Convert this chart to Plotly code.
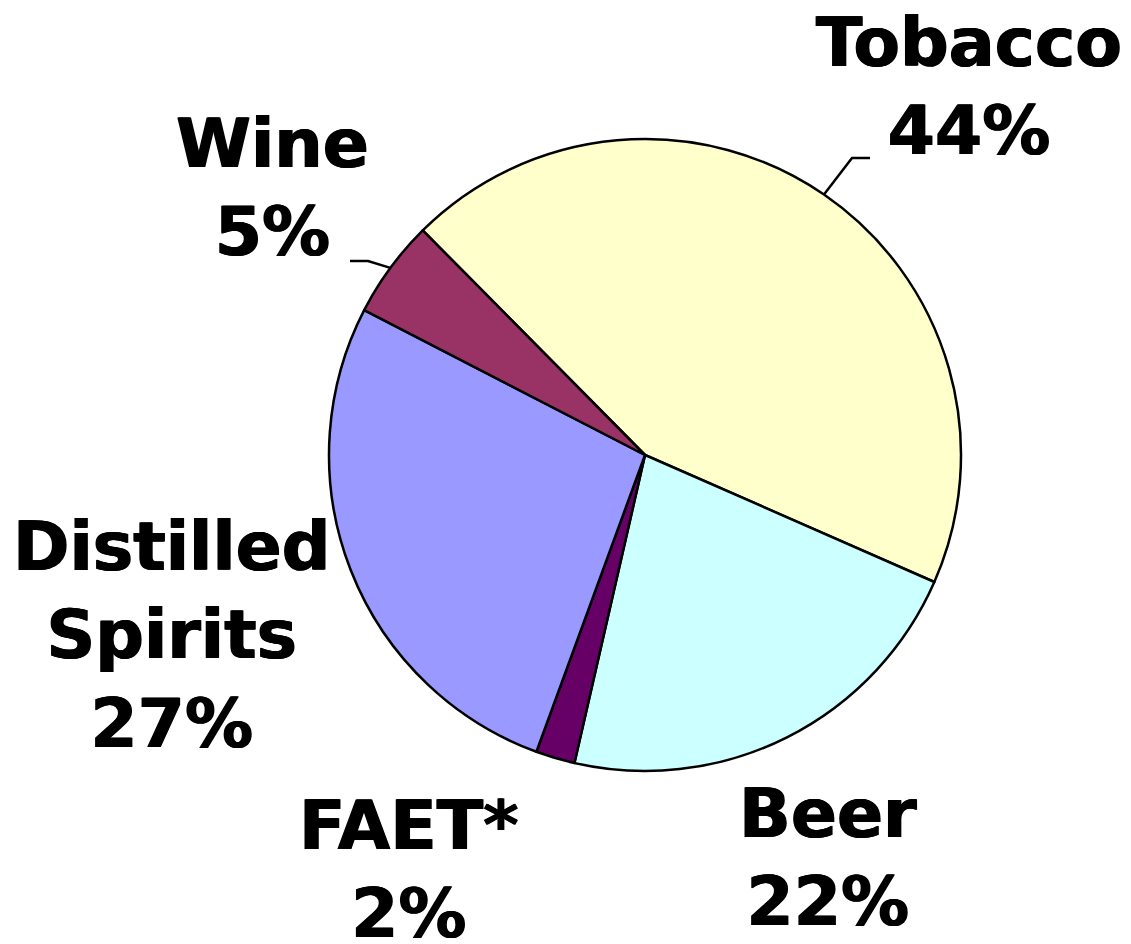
import math
import plotly.graph_objects as go

# ---- data ----
categories = ["Tobacco", "Beer", "FAET*", "Distilled Spirits", "Wine"]
values = [44, 22, 2, 27, 5]
colors = ["#FFFFCC", "#CCFFFF", "#660066", "#9999FF", "#993366"]
label_text = ["Tobacco", "Beer", "FAET*", "Distilled<br>Spirits", "Wine"]

# ---- layout constants ----
W, H = 1131, 944
OFF = 8  # page body margin
CX, CY, R = 645, 455, 316
ROT = 315.3
FONT = dict(family="DejaVu Sans, Verdana, sans-serif", size=68, color="black",
            weight="bold", shadow="0.7px 0 0 black, -0.7px 0 0 black")

# label block centres (pixels, page coordinates)
label_pos = {
    "Tobacco": (969, 87),
    "Beer": (828, 857),
    "FAET*": (409, 869),
    "Distilled Spirits": (172, 635),
    "Wine": (272, 188),
}
# leader line elbows/ends (pixels) for labels that have them
leaders = {
    "Tobacco": [(852, 158), (870, 158)],
    "Wine": [(368, 261), (350, 261)],
}


def px(x):
    return (x - OFF) / W


def py(y):
    return 1 - (y - OFF) / H


fig = go.Figure(
    go.Pie(
        labels=categories,
        values=values,
        sort=False,
        direction="clockwise",
        rotation=ROT,
        marker=dict(colors=colors, line=dict(color="black", width=2.5)),
        textinfo="none",
        hoverinfo="label+percent",
        showlegend=False,
        domain=dict(x=[px(CX - R), px(CX + R)], y=[py(CY + R), py(CY - R)]),
    )
)

total = sum(values)
annotations = []
shapes = []
cum = 0
for cat, v, lt in zip(categories, values, label_text):
    mid = ROT + (cum + v / 2) / total * 360
    cum += v
    lx, ly = label_pos[cat]
    annotations.append(
        dict(
            x=px(lx), y=py(ly), xref="paper", yref="paper",
            text=f"{lt}<br>{v}%", showarrow=False,
            xanchor="center", yanchor="middle", align="center",
            font=FONT,
        )
    )
    if cat in leaders:
        a = math.radians(mid)
        ex, ey = CX + R * math.sin(a), CY - R * math.cos(a)
        pts = [(ex, ey)] + leaders[cat]
        path = "M " + " L ".join(f"{px(x):.5f},{py(y):.5f}" for x, y in pts)
        shapes.append(dict(type="path", path=path, xref="paper", yref="paper",
                           line=dict(color="black", width=2.5)))

annotations.append(dict(x=px(1128), y=py(930), xref="paper", yref="paper",
                        text="1", showarrow=False, font=dict(size=5, color="black")))

fig.update_layout(
    width=W, height=H,
    margin=dict(l=0, r=0, t=0, b=0),
    paper_bgcolor="white", plot_bgcolor="white",
    annotations=annotations, shapes=shapes,
)

fig.write_html("out.html")
